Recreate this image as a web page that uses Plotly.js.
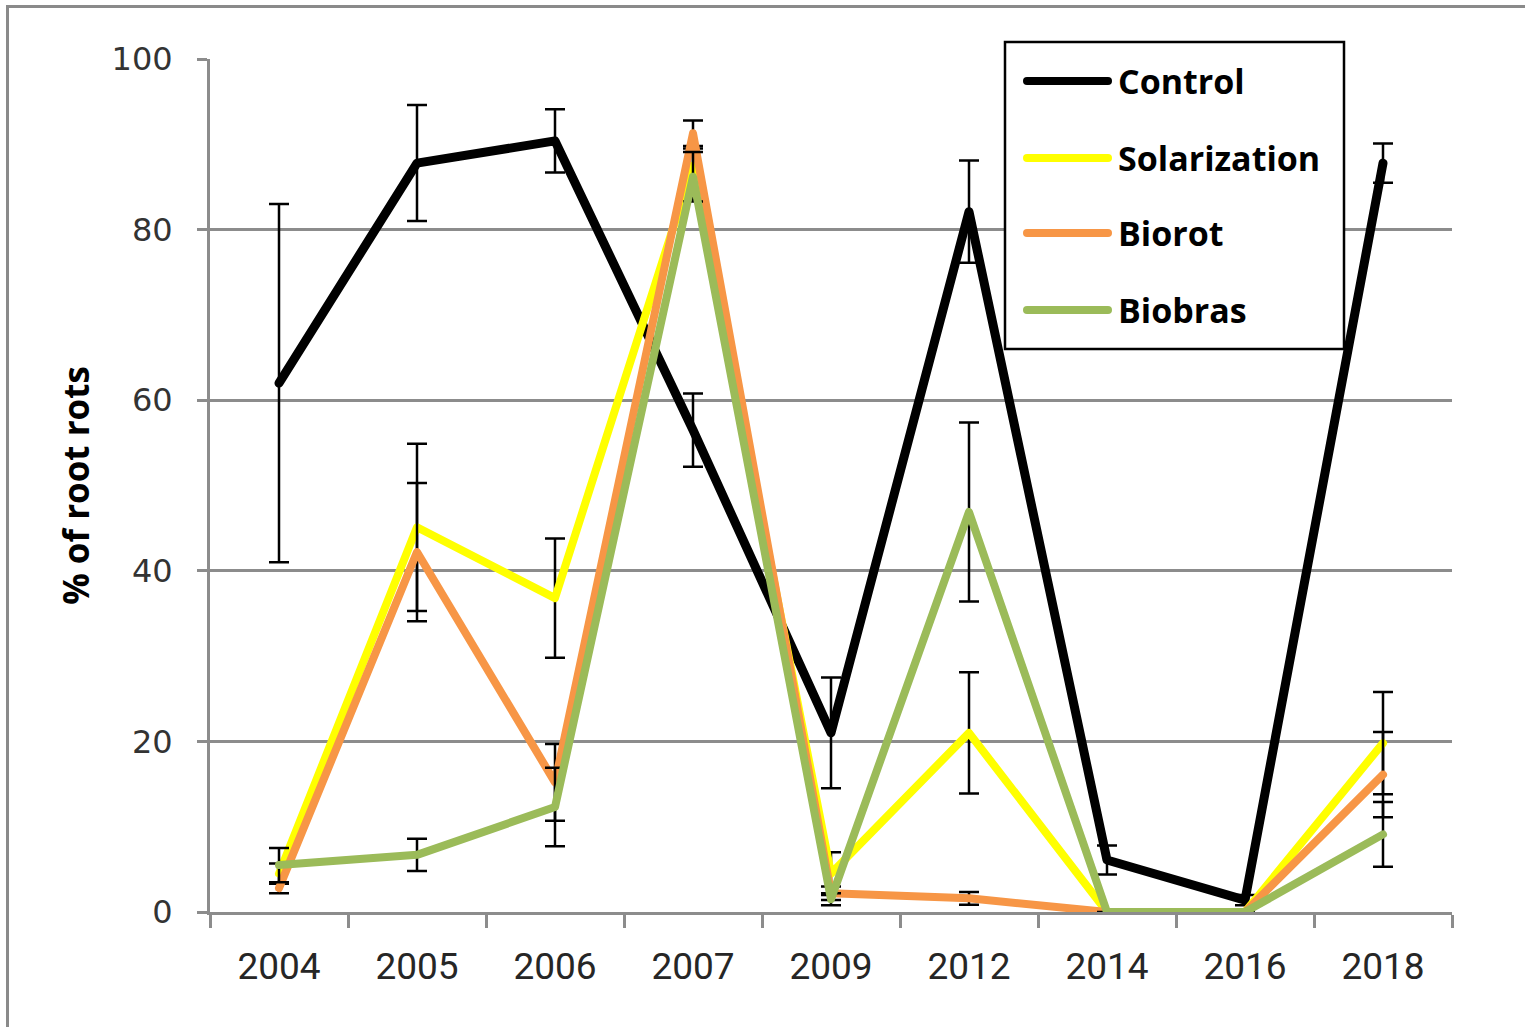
<!DOCTYPE html>
<html>
<head>
<meta charset="utf-8">
<script src="https://cdn.plot.ly/plotly-3.0.1.min.js"></script>
<style>
  html, body { margin: 0; padding: 0; background: #ffffff; }
  #wrap { position: relative; width: 1525px; height: 1027px; overflow: hidden; }
  #chart { width: 1525px; height: 1027px; }
  /* chart-area frame, only its left and top edges fall inside the page */
  #frame {
    position: absolute; left: 6px; top: 5px; width: 1600px; height: 1100px;
    border-left: 3px solid #8a8a8a; border-top: 3px solid #8a8a8a;
    pointer-events: none;
  }
  .shapelayer path { stroke-linecap: round; }
  .js-line { stroke-linejoin: round; stroke-linecap: round; }
</style>
</head>
<body>
<div id="wrap">
  <div id="chart"></div>
  <div id="frame"></div>
</div>
<script>
// Sampling years (category axis)
const years = ['2004', '2005', '2006', '2007', '2009', '2012', '2014', '2016', '2018'];

// Series names and colours
const seriesNames = ['Control', 'Solarization', 'Biorot', 'Biobras'];
const seriesColors = ['#000000', '#FFFF00', '#F79646', '#9BBB59'];

// % of root rots, mean per year
const control = [62.0, 87.8, 90.4, 56.5, 21.0, 82.1, 6.1, 1.4, 87.8];
const solarization = [4.5, 45.1, 36.8, 87.5, 4.5, 21.0, 0, 0, 19.8];
const biorot = [2.8, 42.2, 15.2, 91.3, 2.2, 1.6, 0, 0, 16.1];
const biobras = [5.5, 6.7, 12.3, 86.2, 1.5, 46.9, 0, 0, 9.1];

// Error bar half-lengths (null = no bar)
const controlErr = [21.0, 6.8, 3.7, 4.3, 6.5, 6.0, 1.7, 0.6, 2.3];
const solarizationErr = [1.2, 9.8, 7.0, 2.0, 2.5, 7.1, null, null, 6.0];
const biorotErr = [0.6, 8.1, 4.5, 1.5, 0.8, 0.75, null, null, 5.0];
const biobrasErr = [2.0, 1.9, 4.6, 2.9, 0.7, 10.5, null, null, 3.8];

// Y axis ticks
const yTicks = [0, 20, 40, 60, 80, 100];

const values = [control, solarization, biorot, biobras];
const errors = [controlErr, solarizationErr, biorotErr, biobrasErr];
const widths = [9, 8, 8, 8];

const traces = values.map((v, i) => ({
  type: 'scatter',
  mode: 'lines',
  name: seriesNames[i],
  x: years,
  y: v,
  line: { color: seriesColors[i], width: widths[i] },
  error_y: {
    type: 'data',
    array: errors[i],
    visible: true,
    color: '#000000',
    thickness: 2.5,
    width: 10
  },
  showlegend: false,
  hoverinfo: 'skip'
}));

// Hand-drawn legend box inside the plot (paper coordinates)
const pw = 1242, ph = 853, left = 210, bottom = 912;
const px = x => (x - left) / pw;
const py = y => (bottom - y) / ph;

const shapes = [{
  type: 'rect', xref: 'paper', yref: 'paper',
  x0: px(1005), x1: px(1344), y0: py(349), y1: py(42),
  line: { color: '#000000', width: 2.5 }, fillcolor: '#ffffff', layer: 'above'
}];
const annotations = [];
const rowY = [81, 158, 233, 310];
seriesNames.forEach((n, i) => {
  shapes.push({
    type: 'line', xref: 'paper', yref: 'paper',
    x0: px(1027), x1: px(1108), y0: py(rowY[i]), y1: py(rowY[i]),
    line: { color: seriesColors[i], width: 8 }, layer: 'above'
  });
  annotations.push({
    xref: 'paper', yref: 'paper', x: px(1116), y: py(rowY[i]),
    xanchor: 'left', yanchor: 'middle', showarrow: false,
    text: n,
    font: { family: 'Open Sans, sans-serif', size: 34, color: '#000000', weight: 'bold' }
  });
});

const layout = {
  width: 1525,
  height: 1027,
  margin: { l: 210, r: 73, t: 59, b: 115 },
  paper_bgcolor: '#ffffff',
  plot_bgcolor: '#ffffff',
  showlegend: false,
  xaxis: {
    type: 'category',
    range: [-0.5, 8.5],
    tickson: 'boundaries',
    ticks: 'outside',
    ticklen: 13,
    tickwidth: 3,
    tickcolor: '#8c8c8c',
    showline: true,
    linecolor: '#8c8c8c',
    linewidth: 3,
    showgrid: false,
    zeroline: false,
    ticklabelstandoff: 20,
    tickfont: { family: 'Roboto, sans-serif', size: 37, color: '#262626' }
  },
  yaxis: {
    range: [0, 100],
    tickvals: yTicks,
    ticks: 'outside',
    ticklen: 10,
    tickwidth: 3,
    tickcolor: '#8c8c8c',
    showline: true,
    linecolor: '#8c8c8c',
    linewidth: 3,
    showgrid: true,
    gridcolor: '#8c8c8c',
    gridwidth: 3,
    zeroline: false,
    ticklabelstandoff: 18,
    tickfont: { family: 'DejaVu Sans, sans-serif', size: 32, color: '#333333' },
    title: {
      text: '% of root rots',
      standoff: 12,
      font: { family: 'Open Sans, sans-serif', size: 35, color: '#000000', weight: 'bold' }
    }
  },
  shapes: shapes,
  annotations: annotations
};

Plotly.newPlot('chart', traces, layout, { staticPlot: true, displayModeBar: false });
</script>
</body>
</html>
